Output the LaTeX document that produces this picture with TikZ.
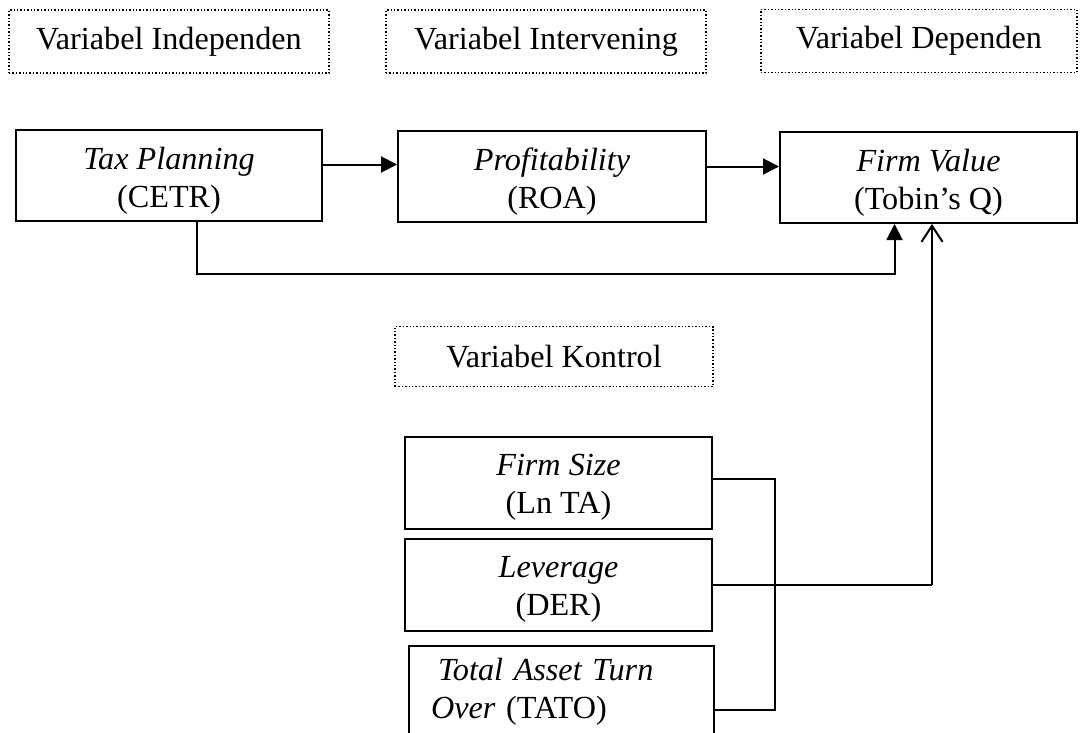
\documentclass[tikz,border=0pt]{standalone}
\usepackage{fontspec}
\setmainfont{Liberation Serif}
\usetikzlibrary{arrows.meta}

\begin{document}
\begin{tikzpicture}[x=0.5pt,y=-0.5pt,
  font=\fontsize{16.1}{19}\selectfont,
  varbox/.style={draw,densely dotted,line width=0.7pt,minimum height=31.5pt,minimum width=160pt},
  mainbox/.style={draw,line width=1pt,align=center,minimum height=45.5pt},
  link/.style={line width=1pt,-{Triangle[length=8pt,width=8pt]}},
  openlink/.style={line width=1pt,-{Straight Barb[length=8pt,width=10.5pt]}},
  thinlink/.style={line width=0.6pt}]
\useasboundingbox (0,0) rectangle (1081,733);
\clip (0,0) rectangle (1081,733);

% judul kelompok
\node[varbox] (indep) at (169,41.5) {Variabel Independen};
\node[varbox] (interv) at (546,41.5) {Variabel Intervening};
\node[varbox,minimum width=158pt] (dep) at (919,41) {Variabel Dependen};

% variabel utama
\node[mainbox,minimum width=153pt] (tax) at (169,175.5) {\rule{0pt}{16pt}\textit{Tax Planning}\\(CETR)};
\node[mainbox,minimum width=154pt] (prof) at (552,176.5) {\rule{0pt}{16pt}\textit{Profitability}\\(ROA)};
\node[mainbox,minimum width=148.5pt] (firm) at (928.5,177.5) {\rule{0pt}{16pt}\textit{Firm Value}\\(Tobin's Q)};

\draw[link] ([yshift=5.5pt]tax.east) -- ([yshift=5.5pt]tax.east -| prof.west);
\draw[link] ([yshift=5pt]prof.east) -- ([yshift=5pt]prof.east -| firm.west);
\draw[link] ([xshift=14pt]tax.south) -- ++(0,52) -| ([xshift=-17pt]firm.south);

% variabel kontrol
\node[varbox,minimum width=159pt,minimum height=30pt] (kontrol) at (554,356.5) {Variabel Kontrol};
\node[mainbox,minimum width=153.5pt,minimum height=46pt] (size) at (558.5,483) {\rule{0pt}{15pt}\textit{Firm Size}\\(Ln TA)};
\node[mainbox,minimum width=153.5pt,minimum height=46pt] (lev) at (558.5,585) {\rule{0pt}{15pt}\textit{Leverage}\\(DER)};
\node[draw,line width=1pt,align=left,inner xsep=11pt,text width=130.5pt,minimum height=46pt] (tato) at (561.5,692)
  {\hspace*{3.5pt}\textit{Total Asset Turn}\\\textit{Over} (TATO)};

\coordinate (kk) at (932,585);
\draw[thinlink] ([yshift=2pt]size.east) -- ++(62,0) |- ([yshift=-9pt]tato.east);
\draw[thinlink] (lev.east) -- (kk);
\draw[openlink] (kk) -- (kk |- firm.south);
\end{tikzpicture}
\end{document}
